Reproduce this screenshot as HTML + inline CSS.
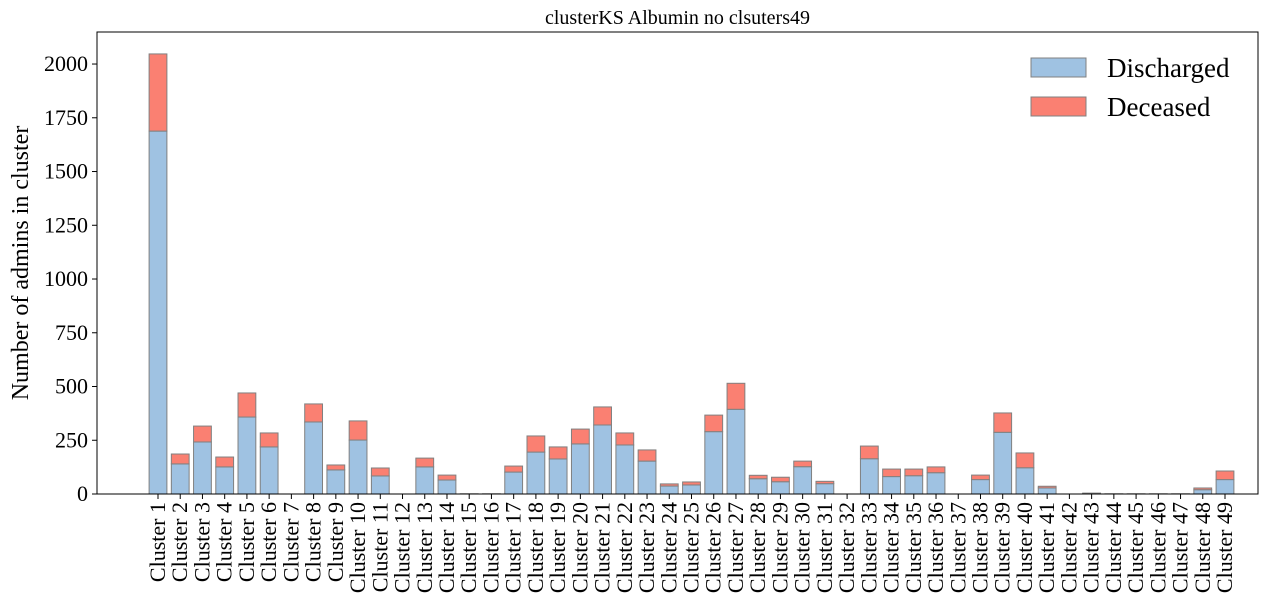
<!DOCTYPE html>
<html><head><meta charset="utf-8"><style>
body{margin:0;background:#fff;}
svg{display:block;font-family:"Liberation Serif",serif;}
</style></head><body>
<svg id="chart" width="1269" height="612"></svg>
<script>
const categories = [];
for (let i = 1; i <= 49; i++) categories.push('Cluster ' + i);
const discharged = [1688,140,242,126,358,219,0,335,112,251,84,0,126,65,1,1,102,195,163,233,321,228,153,37,42,290,394,71,57,127,48,0,164,81,85,99,0,67,287,122,28,0,3,1,1,1,1,20,67];
const deceased =   [359,46,74,46,112,65,0,84,23,89,37,0,41,23,0,0,28,75,56,69,84,56,52,10,14,77,121,16,21,26,11,0,59,35,31,27,0,21,90,69,8,0,1,0,0,0,0,8,40];
const yTicks = [0,250,500,750,1000,1250,1500,1750,2000];

const svg = document.getElementById('chart');
const NS = 'http://www.w3.org/2000/svg';
const L = 97, R = 1258, T = 32, B = 494;
const yMax = 2149;
const firstX = 158, step = (1225 - 158) / 48, bw = 17.8;
const xPos = i => firstX + i * step;
const yPos = v => B - v / yMax * (B - T);
function mk(tag, attrs) { const e = document.createElementNS(NS, tag); for (const k in attrs) e.setAttribute(k, attrs[k]); svg.appendChild(e); return e; }

const title = mk('text', {x: (L + R) / 2, y: 24, 'text-anchor': 'middle', 'font-size': 20});
title.textContent = 'clusterKS Albumin no clsuters49';



categories.forEach((c, i) => {
  const x = xPos(i) - bw / 2;
  const d = mk('rect', {x: x, y: yPos(discharged[i]), width: bw, height: B - yPos(discharged[i]), fill: '#9fc2e2', stroke: '#808080', 'stroke-width': 1});
  
  
  const tot = discharged[i] + deceased[i];
  const e = mk('rect', {x: x, y: yPos(tot), width: bw, height: yPos(discharged[i]) - yPos(tot), fill: '#fa8072', stroke: '#808080', 'stroke-width': 1});
  
  
  const tk = mk('line', {x1: xPos(i), x2: xPos(i), y1: B, y2: B + 5, stroke: '#000', 'stroke-width': 1});
  
  
  const lb = mk('text', {x: 0, y: 0, 'font-size': 22, 'text-anchor': 'end', transform: 'translate(' + (xPos(i) + 7) + ',' + (B + 8) + ') rotate(-90)'});
  lb.textContent = c;
  
  
});

yTicks.forEach(v => {
  const tk = mk('line', {x1: L - 5, x2: L, y1: yPos(v), y2: yPos(v), stroke: '#000', 'stroke-width': 1});
  
  
  const lb = mk('text', {x: L - 9, y: yPos(v) + 7, 'font-size': 22, 'text-anchor': 'end'});
  lb.textContent = v;
  
  
});

const frame = mk('rect', {x: L, y: T, width: R - L, height: B - T, fill: 'none', stroke: '#000', 'stroke-width': 1});



const yt = mk('text', {x: 0, y: 0, 'font-size': 24, 'text-anchor': 'middle', transform: 'translate(28,' + ((T + B) / 2) + ') rotate(-90)'});
yt.textContent = 'Number of admins in cluster';



const legend = [['Discharged', '#9fc2e2', 58], ['Deceased', '#fa8072', 97]];
legend.forEach(l => {
  const r = mk('rect', {x: 1031, y: l[2], width: 55, height: 19, fill: l[1], stroke: '#808080', 'stroke-width': 1});
  
  
  const t = mk('text', {x: 1107, y: l[2] + 19, 'font-size': 27});
  t.textContent = l[0];
  
  
});
</script>
</body></html>
